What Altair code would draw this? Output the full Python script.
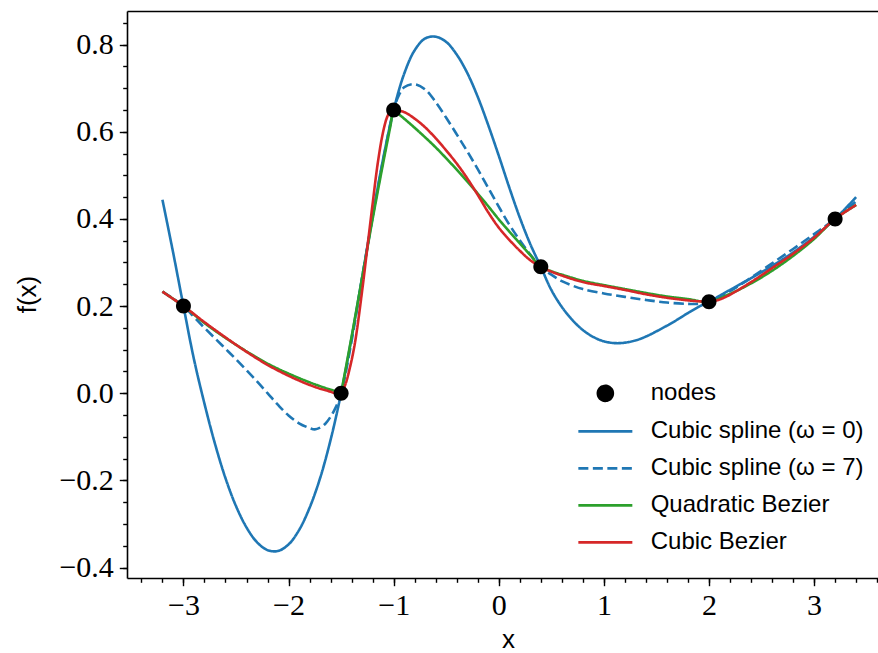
import altair as alt
import pandas as pd

# ---------------- data ----------------
node_x = [-3.0, -1.5, -1.0, 0.4, 2.0, 3.2]
node_y = [0.2, 0.0, 0.65, 0.29, 0.21, 0.4]

# Cubic spline (omega = 0)
s0_x = [-3.2, -3.1, -3.0, -2.9, -2.8, -2.7, -2.6, -2.5, -2.4, -2.3, -2.2, -2.1,
        -2.0, -1.9, -1.8, -1.7, -1.6, -1.5, -1.4, -1.3, -1.2, -1.1, -1.0, -0.9,
        -0.8, -0.7, -0.6, -0.5, -0.4, -0.3, -0.2, -0.1, 0.0, 0.1, 0.2, 0.3, 0.4,
        0.5, 0.6, 0.7, 0.8, 0.9, 1.0, 1.1, 1.2, 1.3, 1.4, 1.5, 1.6, 1.7, 1.8, 1.9,
        2.0, 2.2, 2.4, 2.6, 2.8, 3.0, 3.2, 3.4]
s0_y = [0.444, 0.325, 0.2, 0.078, -0.024, -0.116, -0.195, -0.259, -0.308, -0.342,
        -0.36, -0.362, -0.347, -0.314, -0.263, -0.195, -0.107, 0.0, 0.127, 0.266,
        0.406, 0.538, 0.65, 0.733, 0.787, 0.814, 0.818, 0.806, 0.777, 0.735, 0.68,
        0.615, 0.545, 0.472, 0.403, 0.342, 0.29, 0.237, 0.198, 0.168, 0.145, 0.129,
        0.119, 0.115, 0.116, 0.121, 0.13, 0.142, 0.155, 0.169, 0.184, 0.198,
        0.21, 0.237, 0.264, 0.292, 0.323, 0.359, 0.4, 0.45]

# Cubic spline (omega = 7)
s7_x = [-3.2, -3.0, -2.9, -2.8, -2.7, -2.6, -2.5, -2.4, -2.3, -2.2, -2.1, -2.0,
        -1.9, -1.8, -1.75, -1.7, -1.65, -1.6, -1.55, -1.5, -1.4, -1.3, -1.2, -1.1,
        -1.0, -0.95, -0.9, -0.8, -0.7, -0.6, -0.5, -0.4, -0.3, -0.2, -0.1, 0.0,
        0.1, 0.2, 0.3, 0.4, 0.5, 0.6, 0.7, 0.8, 1.0, 1.2, 1.4, 1.6, 1.8, 1.9, 2.0,
        2.2, 2.4, 2.6, 2.8, 3.0, 3.2, 3.4]
s7_y = [0.233, 0.2, 0.175, 0.15, 0.126, 0.102, 0.078, 0.053, 0.027, 0.0, -0.027,
        -0.051, -0.069, -0.08, -0.083, -0.079, -0.07, -0.054, -0.032, 0.0, 0.12,
        0.265, 0.405, 0.535, 0.65, 0.684, 0.702, 0.709, 0.697, 0.668, 0.632, 0.594,
        0.555, 0.514, 0.471, 0.428, 0.387, 0.351, 0.318, 0.29, 0.272, 0.257, 0.247,
        0.239, 0.229, 0.221, 0.214, 0.208, 0.205, 0.205, 0.21, 0.234, 0.265, 0.298,
        0.331, 0.365, 0.4, 0.44]

# Quadratic Bezier
qb_x = [-3.2, -3.0, -2.8, -2.6, -2.4, -2.2, -2.0, -1.8, -1.65, -1.52, -1.5, -1.48,
        -1.4, -1.3, -1.2, -1.1, -1.03, -1.0, -0.97, -0.9, -0.8, -0.7, -0.6, -0.5,
        -0.4, -0.3, -0.2, -0.1, 0.0, 0.1, 0.2, 0.3, 0.4, 0.5, 0.6, 0.8, 1.0, 1.2,
        1.4, 1.6, 1.8, 2.0, 2.2, 2.4, 2.6, 2.8, 3.0, 3.2, 3.4]
qb_y = [0.233, 0.2, 0.161, 0.127, 0.096, 0.068, 0.045, 0.025, 0.012, 0.002, 0.0,
        0.026, 0.13, 0.265, 0.4, 0.528, 0.614, 0.65, 0.644, 0.63, 0.609, 0.587,
        0.564, 0.539, 0.513, 0.486, 0.458, 0.429, 0.399, 0.371, 0.344, 0.317, 0.29,
        0.28, 0.272, 0.258, 0.248, 0.239, 0.23, 0.222, 0.216, 0.21, 0.228, 0.252,
        0.281, 0.315, 0.354, 0.4, 0.432]

# Cubic Bezier
cb_x = [-3.2, -3.0, -2.8, -2.6, -2.4, -2.2, -2.0, -1.8, -1.65, -1.5, -1.46, -1.42,
        -1.37, -1.3, -1.25, -1.2, -1.15, -1.1, -1.06, -1.03, -1.0, -0.9, -0.8, -0.7,
        -0.6, -0.5, -0.4, -0.3, -0.2, -0.1, 0.0, 0.1, 0.2, 0.3, 0.4, 0.5, 0.6, 0.8,
        1.0, 1.2, 1.4, 1.6, 1.8, 1.9, 2.0, 2.1, 2.2, 2.4, 2.6, 2.8, 3.0, 3.2, 3.4]
cb_y = [0.233, 0.2, 0.163, 0.128, 0.095, 0.065, 0.04, 0.019, 0.007, 0.0, 0.02, 0.055,
        0.113, 0.235, 0.335, 0.435, 0.53, 0.6, 0.635, 0.647, 0.65, 0.645, 0.63, 0.61,
        0.585, 0.557, 0.527, 0.493, 0.455, 0.415, 0.38, 0.352, 0.327, 0.305, 0.29,
        0.279, 0.27, 0.255, 0.246, 0.237, 0.227, 0.219, 0.213, 0.211, 0.21, 0.215,
        0.226, 0.255, 0.287, 0.32, 0.357, 0.4, 0.432]

series_names = ["nodes", "Cubic spline (ω = 0)", "Cubic spline (ω = 7)",
                "Quadratic Bezier", "Cubic Bezier"]
series_colors = ["#000000", "#1f77b4", "#1f77b4", "#2ca02c", "#d62728"]
series_dash = [[1, 0], [1, 0], [10, 4.5], [1, 0], [1, 0]]
dot_path = "M0.432,0A0.432,0.432 0 1,1 -0.432,0A0.432,0.432 0 1,1 0.432,0Z"
bar_path = "M-1.556,0L1.556,0"
series_shape = [dot_path, bar_path, bar_path, bar_path, bar_path]

x_major = [-3, -2, -1, 0, 1, 2, 3]
x_minor = [round(-3.4 + 0.2 * i, 2) for i in range(36)]
y_major = [-0.4, -0.2, 0.0, 0.2, 0.4, 0.6, 0.8]
y_minor = [round(-0.4 + 0.05 * i, 2) for i in range(26)]

# ---------------- tables ----------------
frames = []
for name, xs, ys in [(series_names[1], s0_x, s0_y), (series_names[2], s7_x, s7_y),
                     (series_names[3], qb_x, qb_y), (series_names[4], cb_x, cb_y)]:
    frames.append(pd.DataFrame({"x": xs, "y": ys, "series": name}))
lines_df = pd.concat(frames, ignore_index=True)
nodes_df = pd.DataFrame({"x": node_x, "y": node_y, "series": "nodes"})

# ---------------- scales / axes ----------------
xscale = alt.Scale(domain=[-3.537, 3.608], nice=False, zero=False)
yscale = alt.Scale(domain=[-0.424, 0.877], nice=False, zero=False)

common_axis = dict(grid=False, tickColor="#000000", tickWidth=1.4,
                   domainColor="#000000", domainWidth=1.6)

x_major_axis = alt.Axis(orient="bottom", values=x_major, format=".0f",
                        tickSize=7.7, labelFont="Liberation Serif", labelFontSize=30,
                        labelColor="#000000", labelPadding=5, labelFlush=False,
                        labelOverlap=False, title="x", titleFont="Liberation Sans",
                        titleFontSize=26, titleFontWeight="normal", titleColor="#000000",
                        titleX=381, titleY=74, titleAlign="center",
                        titleBaseline="bottom", **common_axis)
x_minor_axis = alt.Axis(orient="bottom", values=x_minor, tickSize=4.3, labels=False,
                        domain=False, title=None, **common_axis)
x_top_axis = alt.Axis(orient="top", ticks=False, labels=False, domain=True,
                      title=None, **common_axis)

y_major_axis = alt.Axis(orient="left", values=y_major, format=".1f", tickSize=7.7,
                        labelFont="Liberation Serif", labelFontSize=30,
                        labelColor="#000000", labelPadding=6, labelOverlap=False,
                        title="f(x)", titleFont="Liberation Sans", titleFontSize=26,
                        titleFontWeight="normal", titleColor="#000000", titleAngle=270,
                        titleX=-92, titleY=283, titleAlign="center",
                        titleBaseline="alphabetic", **common_axis)
y_minor_axis = alt.Axis(orient="left", values=y_minor, tickSize=4.3, labels=False,
                        domain=False, title=None, **common_axis)

legend = alt.Legend(title=None, orient="none", legendX=459.35, legendY=363.35,
                    direction="vertical", columns=1, padding=0, rowPadding=6,
                    symbolSize=1204, labelFont="Liberation Sans", labelFontSize=24,
                    labelColor="#000000", labelOffset=26.35, labelLimit=600,
                    symbolStrokeWidth=2.6, symbolOpacity=1)

color_enc = alt.Color("series:N", scale=alt.Scale(domain=series_names, range=series_colors),
                      legend=legend)

lines = alt.Chart(lines_df).mark_line(strokeWidth=2.6, interpolate="catmull-rom").encode(
    x=alt.X("x:Q", scale=xscale, axis=x_major_axis),
    y=alt.Y("y:Q", scale=yscale, axis=y_major_axis),
    color=color_enc,
    strokeDash=alt.StrokeDash("series:N",
                              scale=alt.Scale(domain=series_names, range=series_dash),
                              legend=legend),
)

points = alt.Chart(nodes_df).mark_point(filled=True, opacity=1, strokeWidth=0,
                                        size=1204).encode(
    x=alt.X("x:Q", scale=xscale, axis=x_top_axis),
    y=alt.Y("y:Q", scale=yscale, axis=y_minor_axis),
    color=color_enc,
    shape=alt.Shape("series:N", scale=alt.Scale(domain=series_names, range=series_shape),
                    legend=legend),
)

minor = alt.Chart(nodes_df).mark_point(opacity=0).encode(
    x=alt.X("x:Q", scale=xscale, axis=x_minor_axis),
    y=alt.Y("y:Q", scale=yscale, axis=None),
)

chart = alt.layer(lines, points, minor).resolve_axis(
    x="independent", y="independent"
).properties(
    width=751, height=567,
    padding={"left": 127, "top": 11, "right": 0, "bottom": 75},
    autosize=alt.AutoSizeParams(type="none"),
    background="#ffffff",
).configure_view(stroke="transparent")

chart.save("out.html", embed_options={"renderer": "svg", "actions": False})
